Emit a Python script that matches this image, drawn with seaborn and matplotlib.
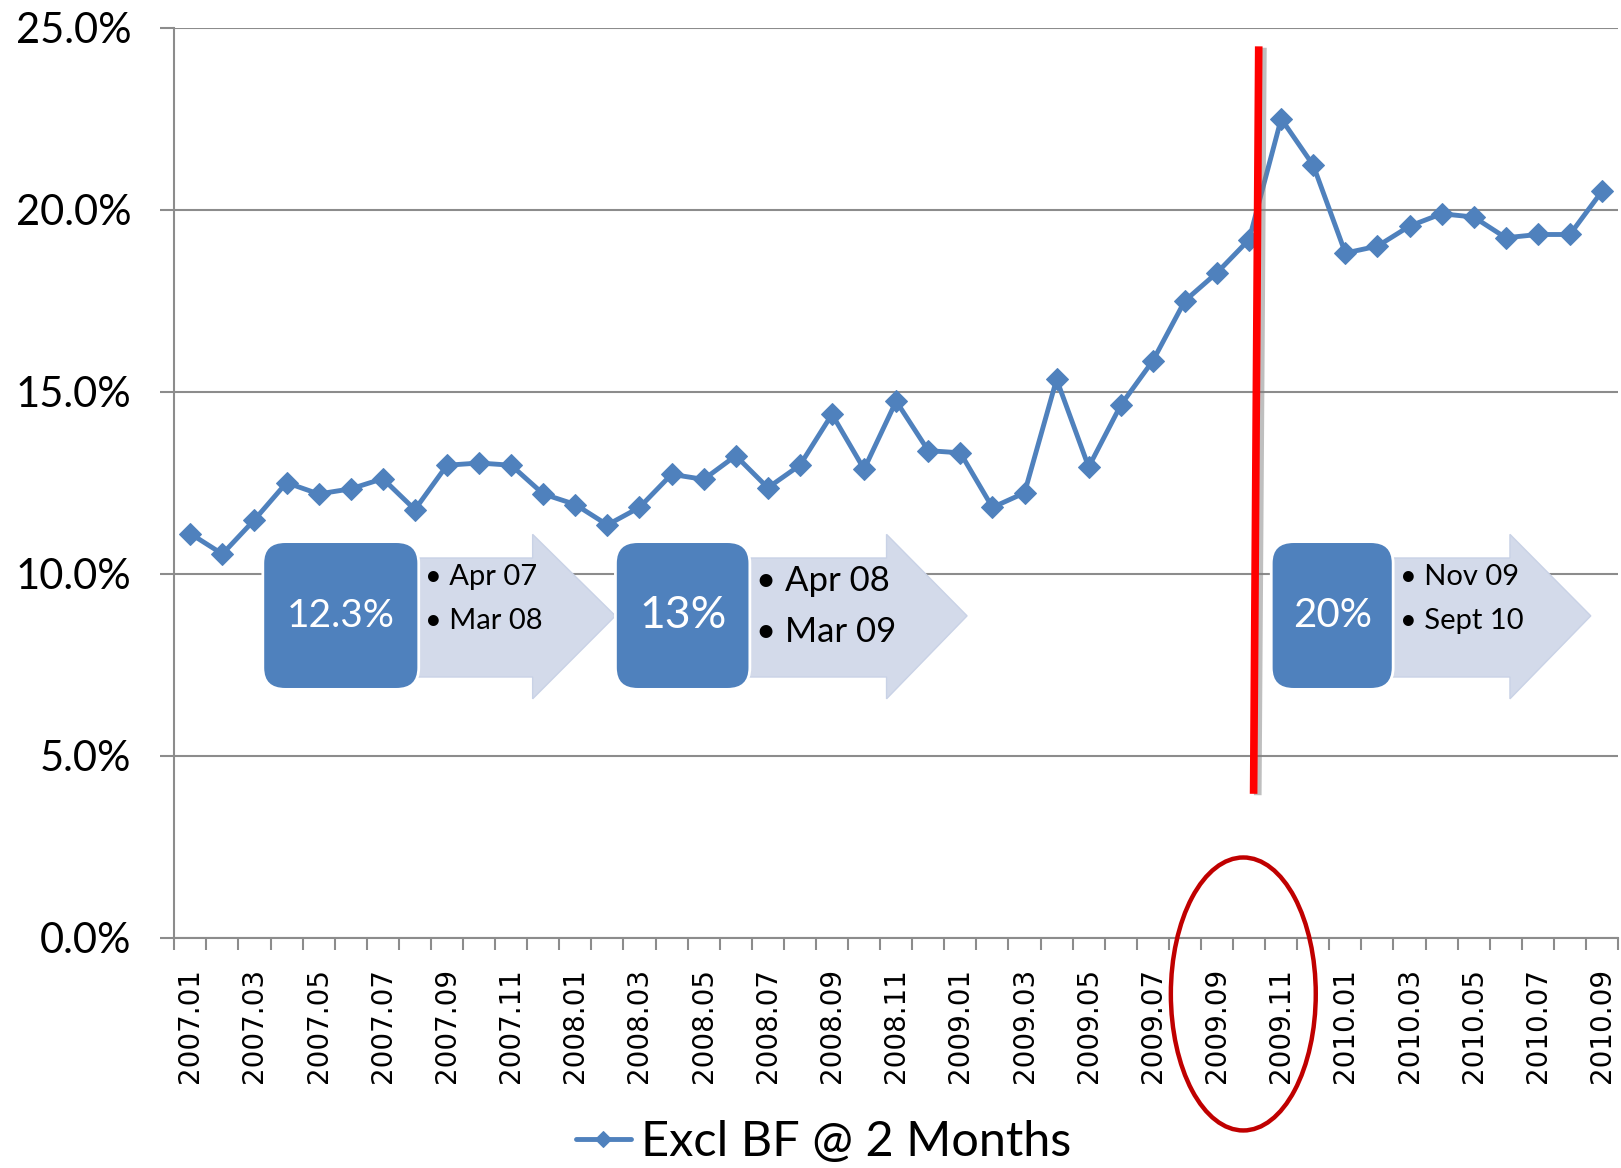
import numpy as np
import matplotlib
matplotlib.use("Agg")
import matplotlib.pyplot as plt
import matplotlib.patheffects as pe
from matplotlib.patches import FancyBboxPatch, Polygon, Ellipse
import pandas as pd
import seaborn as sns

# monthly values (share, %)
months = [f"{y}.{m:02d}" for y in (2007, 2008, 2009, 2010) for m in range(1, 13)][:45]
values = [11.10, 10.54, 11.48, 12.50, 12.19, 12.33, 12.61, 11.76, 12.98, 13.04,
          12.98, 12.19, 11.90, 11.34, 11.82, 12.73, 12.59, 13.24, 12.36, 12.98,
          14.38, 12.87, 14.74, 13.38, 13.32, 11.82, 12.22, 15.34, 12.93, 14.63,
          15.85, 17.50, 18.27, 19.18, 22.50, 21.22, 18.81, 19.00, 19.55, 19.89,
          19.80, 19.23, 19.32, 19.32, 20.51]
series_name = "Excl BF @ 2 Months"

# period callouts: box label, bullet lines
callout_labels = ["12.3%", "13%", "20%"]
callout_lines = [["Apr 07", "Mar 08"], ["Apr 08", "Mar 09"], ["Nov 09", "Sept 10"]]

df = pd.DataFrame({"pos": np.arange(len(months)), "month": months,
                   "value": np.array(values) / 100})

blue = "#4F81BD"
grid_c = "#8C8C8C"

sns.set_style("white")
plt.rcParams["font.family"] = ["Lato", "DejaVu Sans"]
plt.rcParams["text.color"] = "black"
plt.rcParams["xtick.color"] = "black"
plt.rcParams["ytick.color"] = "black"

fig = plt.figure(figsize=(16.21, 11.68), dpi=100)
ax = fig.add_axes([0.1075, 0.1973, 0.8907, 0.7789])

sns.lineplot(data=df, x="pos", y="value", ax=ax, color=blue, lw=3.5,
             marker="D", markersize=11.5, markeredgecolor=blue, label=series_name,
             legend=False, zorder=3)

ax.set_xlim(-0.5, len(months) - 0.5)
ax.set_ylim(0, 0.25)
ax.set_yticks(np.arange(0, 0.2501, 0.05))
ax.set_yticklabels([f"{v*100:.1f}%" for v in np.arange(0, 0.2501, 0.05)], fontsize=30)
ax.yaxis.grid(True, color=grid_c, lw=1.5)
ax.set_axisbelow(True)
ax.tick_params(axis="y", direction="out", length=10, width=1.5, color=grid_c, pad=21, left=True)

ax.set_xticks(df["pos"][::2])
ax.set_xticklabels(df["month"][::2], rotation=90, fontsize=20, family="DejaVu Sans")
ax.set_xticks(np.arange(-0.5, len(months)), minor=True)
ax.tick_params(axis="x", which="major", length=0, pad=22)
ax.tick_params(axis="x", which="minor", direction="out", length=8.5, width=1.5, color=grid_c, bottom=True)
ax.set_xlabel("")
ax.set_ylabel("")
for s in ("top", "right"):
    ax.spines[s].set_visible(False)
for s in ("left", "bottom"):
    ax.spines[s].set_color(grid_c)
    ax.spines[s].set_linewidth(1.5)

# callout boxes with arrows (data coords: category index, share)
box_x = [(2.26, 7.12), (13.25, 17.44), (33.69, 37.49)]
head_x = [(10.67, 13.25), (21.70, 24.21), (41.13, 43.65)]
box_y = (0.0682, 0.1088)
body_y = (0.0716, 0.1043)
head_y = (0.0656, 0.1108)
tip_y = 0.0884
pct_size = [28, 32, 29]
bullet_size = [21, 25, 21]
bullet_y = [(0.0990, 0.0870), (0.0980, 0.0840), (0.0990, 0.0870)]
for i in range(3):
    x0, x1 = box_x[i]
    h0, tip = head_x[i]
    arrow = Polygon([(x0 + 1, body_y[0]), (h0, body_y[0]), (h0, head_y[0]), (tip, tip_y),
                     (h0, head_y[1]), (h0, body_y[1]), (x0 + 1, body_y[1])],
                    closed=True, facecolor="#D3DAEA", edgecolor="#C9D2E6", lw=1, zorder=4)
    ax.add_patch(arrow)
    box = FancyBboxPatch((x0, box_y[0]), x1 - x0, box_y[1] - box_y[0],
                         boxstyle="round,pad=0,rounding_size=0.7", mutation_aspect=0.0085,
                         facecolor=blue, edgecolor="white", lw=2, zorder=5)
    ax.add_patch(box)
    ax.text((x0 + x1) / 2, sum(box_y) / 2, callout_labels[i], color="white",
            fontsize=pct_size[i], ha="center", va="center", zorder=6)
    for line, yy in zip(callout_lines[i], bullet_y[i]):
        ax.text(x1 + 0.2, yy, "\u2022 " + line, color="black", fontsize=bullet_size[i],
                ha="left", va="center", zorder=6)

# red marker line with soft shadow
red_x = [33.30, 33.14]
red_y = [0.2449, 0.0395]
ax.plot(red_x, red_y, color="red", lw=5.5, zorder=7, solid_capstyle="butt",
        path_effects=[pe.SimpleLineShadow(offset=(3, -1), shadow_color="gray", alpha=0.5),
                      pe.Normal()])

# red ellipse around 2009.09 - 2009.11 labels
ell = Ellipse((0.767, 0.149), 0.0894, 0.2337, transform=fig.transFigure,
              fill=False, edgecolor="#C00000", lw=3.2, zorder=10)
fig.patches.append(ell)

handles, labels = ax.get_legend_handles_labels()
fig.legend(handles, labels, loc="center", bbox_to_anchor=(0.508, 0.022), frameon=False,
           fontsize=35, handlelength=1.15, handletextpad=0.2, markerscale=0.75)

fig.savefig("out.png", dpi=100)
